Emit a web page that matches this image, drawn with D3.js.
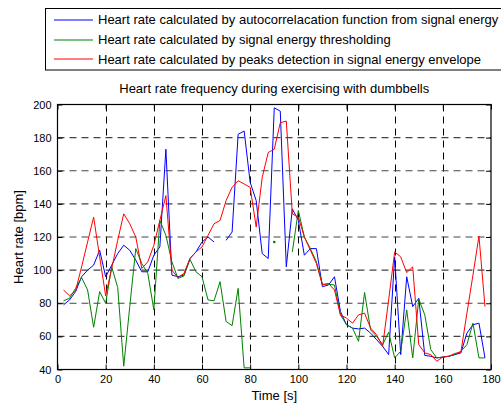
<!DOCTYPE html>
<html>
<head>
<meta charset="utf-8">
<script src="https://cdn.jsdelivr.net/npm/d3@7"></script>
<style>
  body { margin: 0; background: #fff; }
  svg { display: block; }
  text { font-family: "Liberation Sans", Arial, Helvetica, sans-serif; fill: #000; }
</style>
</head>
<body>
<svg id="chart" width="501" height="405"></svg>
<script>
// Sample times (s), one estimate every 2.5 s
const timeSec = [2.5, 5, 7.5, 10, 12.5, 15, 17.5, 20, 22.5, 25, 27.5, 30, 32.5, 35, 37.5, 40,
  42.5, 45, 47.5, 50, 52.5, 55, 57.5, 60, 62.5, 65, 67.5, 70, 72.5, 75, 77.5, 80,
  82.5, 85, 87.5, 90, 92.5, 95, 97.5, 100, 102.5, 105, 107.5, 110, 112.5, 115, 117.5, 120,
  122.5, 125, 127.5, 130, 132.5, 135, 137.5, 140, 142.5, 145, 147.5, 150, 152.5, 155, 157.5, 160,
  162.5, 165, 167.5, 170, 172.5, 175, 177.5];

// Heart rate from the autocorrelation of the signal energy (bpm)
const autocorrBpm = [79, 82, 87, 96, 100, 103, 112, 96, 103, 110, 115, 112, 106, 99, 99, 109,
  114, 173, 97, 96, 97, 107, 111, 117, 120, 117, null, 118, 123, 182, 184, 153,
  142, 110, 107, 198, 196, 102, 137, 130, 109, 113, 113, 90, 91, 96, 75, 67,
  65, 64.5, 65, 62, 58, 54, 49, 108, 49, 96, 78, 83, 48.5, 48, 47, 47.5,
  48, 49, 50, 62, 67, 68, 47];

// Heart rate from signal energy thresholding (bpm)
const thresholdBpm = [81.5, 83, 89, 95.5, 88, 65.5, 87, 80, 102, 89.5, 42, 78, 113, 104, 98, 76,
  130, 121, 105, 95, 96.5, 106.5, 99, 96, 82, 81.5, 93, 69, 66.5, 89, 41, 41,
  null, null, null, 117, null, null, 111, 136, 120, 113, 105, 91.5, 91.5, 91, 73, 67,
  65, 57, 86.5, 64, 60, 55, 62.5, 47, 51, 76, 47, 82.5, 73, 52, 47, 47.5,
  48, 49, 51, 55, 68, 47, 47];

// Heart rate from peak detection in the signal energy envelope (bpm)
const envelopeBpm = [88, 84.5, 87.5, 102, 117, 132, 108, 84.5, 101, 118, 134, 128, 120, 101, 105, 115,
  130, 145, 100, 95.5, 98, 107, 111, 114, 121, 128, 130, 142, 150, 154, 152, 150,
  126, 156, 171, 173, 189, 190, 134, 132, 120, 112, 104, 91, 92, 88, 73, 71,
  68, 73, 74, 65, 61, 54, 82, 111, 108, 98.5, 102, 55, 50, 49, 45, 47.5,
  48, 49.7, 50.5, 74, 97, 120.6, 78];

const xTicks = [0, 20, 40, 60, 80, 100, 120, 140, 160, 180];
const yTicks = [40, 60, 80, 100, 120, 140, 160, 180, 200];

const seriesNames = [
  "Heart rate calculated by autocorrelacation function from signal energy",
  "Heart rate calculated by signal energy thresholding",
  "Heart rate calculated by peaks detection in signal energy envelope"
];
const seriesColors = ["#0000ff", "#008000", "#ff0000"];
const seriesValues = [autocorrBpm, thresholdBpm, envelopeBpm];

const titleText = "Heart rate frequency during exercising with dumbbells";
const xLabel = "Time [s]";
const yLabel = "Heart rate [bpm]";

// ---- layout ----
const svg = d3.select("#chart");
const plot = { left: 57.5, right: 491, top: 104.5, bottom: 369.5 };
const labelFont = 13;

const x = d3.scaleLinear().domain([0, 180]).range([plot.left, plot.right]);
const y = d3.scaleLinear().domain([40, 200]).range([plot.bottom, plot.top]);

// dashed grid
const grid = svg.append("g");
grid.selectAll("line.v")
  .data(xTicks.filter(t => t > 0 && t < 180))
  .join("line")
  .attr("x1", d => Math.round(x(d)) + 0.5).attr("x2", d => Math.round(x(d)) + 0.5)
  .attr("y1", plot.top).attr("y2", plot.bottom)
  .attr("stroke", "#000").attr("stroke-width", 1).attr("stroke-dasharray", "7,5");
grid.selectAll("line.h")
  .data(yTicks.filter(t => t > 40 && t < 200))
  .join("line")
  .attr("x1", plot.left).attr("x2", plot.right)
  .attr("y1", d => y(d)).attr("y2", d => y(d))
  .attr("stroke", "#444").attr("stroke-width", 1.2).attr("stroke-dasharray", "7,5");

// series lines
const line = d3.line()
  .defined(d => d.v !== null)
  .x(d => x(d.t))
  .y(d => y(d.v));

seriesValues.forEach((vals, i) => {
  const pts = timeSec.map((t, k) => ({ t, v: vals[k] }));
  svg.append("path")
    .datum(pts)
    .attr("fill", "none")
    .attr("stroke", seriesColors[i])
    .attr("stroke-width", 1)
    .attr("d", line);
  // lone samples with no defined neighbour are shown as dots
  const lone = pts.filter((p, k) => p.v !== null &&
    (k === 0 || pts[k - 1].v === null) && (k === pts.length - 1 || pts[k + 1].v === null));
  svg.selectAll(null).data(lone).join("circle")
    .attr("cx", d => x(d.t)).attr("cy", d => y(d.v)).attr("r", 1.3)
    .attr("fill", seriesColors[i]);
});

// axes with inward ticks on all four sides
const tickLen = 5;
const axisBottom = d3.axisBottom(x).tickValues(xTicks).tickSize(-tickLen).tickPadding(6).tickFormat(d3.format("d"));
const axisTop = d3.axisTop(x).tickValues(xTicks).tickSize(-tickLen).tickFormat("");
const axisLeft = d3.axisLeft(y).tickValues(yTicks).tickSize(-tickLen).tickPadding(6).tickFormat(d3.format("d"));
const axisRight = d3.axisRight(y).tickValues(yTicks).tickSize(-tickLen).tickFormat("");

function styleAxis(g) {
  g.select(".domain").remove();
  g.selectAll(".tick line").attr("stroke", "#000");
  g.selectAll(".tick text").attr("font-size", 11).attr("fill", "#000")
    .style("font-family", '"Liberation Sans", Arial, sans-serif');
}
svg.append("g").attr("transform", `translate(0,${plot.bottom})`).call(axisBottom).call(styleAxis);
svg.append("g").attr("transform", `translate(0,${plot.top})`).call(axisTop).call(styleAxis);
svg.append("g").attr("transform", `translate(${plot.left},0)`).call(axisLeft).call(styleAxis);
svg.append("g").attr("transform", `translate(${plot.right},0)`).call(axisRight).call(styleAxis);

// axes box
svg.append("rect")
  .attr("x", plot.left).attr("y", plot.top)
  .attr("width", plot.right - plot.left).attr("height", plot.bottom - plot.top)
  .attr("fill", "none").attr("stroke", "#000").attr("stroke-width", 1.2);

// title and axis labels
svg.append("text")
  .attr("x", (plot.left + plot.right) / 2).attr("y", 93)
  .attr("text-anchor", "middle").attr("font-size", labelFont)
  .text(titleText);
svg.append("text")
  .attr("x", (plot.left + plot.right) / 2).attr("y", 400)
  .attr("text-anchor", "middle").attr("font-size", labelFont)
  .text(xLabel);
svg.append("text")
  .attr("transform", `translate(23,${(plot.top + plot.bottom) / 2}) rotate(-90)`)
  .attr("text-anchor", "middle").attr("font-size", labelFont)
  .text(yLabel);

// legend
const legend = svg.append("g");
legend.append("rect")
  .attr("x", 45.5).attr("y", 8.5).attr("width", 460).attr("height", 61.5)
  .attr("fill", "#fff").attr("stroke", "#000").attr("stroke-width", 1);
const rowY = [19.5, 39.5, 59];
seriesNames.forEach((name, i) => {
  legend.append("line")
    .attr("x1", 54).attr("x2", 93)
    .attr("y1", Math.round(rowY[i])).attr("y2", Math.round(rowY[i]))
    .attr("stroke", seriesColors[i]).attr("stroke-width", 1.2);
  legend.append("text")
    .attr("x", 98).attr("y", rowY[i] + 4.5)
    .attr("font-size", labelFont)
    .text(name);
});
</script>
</body>
</html>
